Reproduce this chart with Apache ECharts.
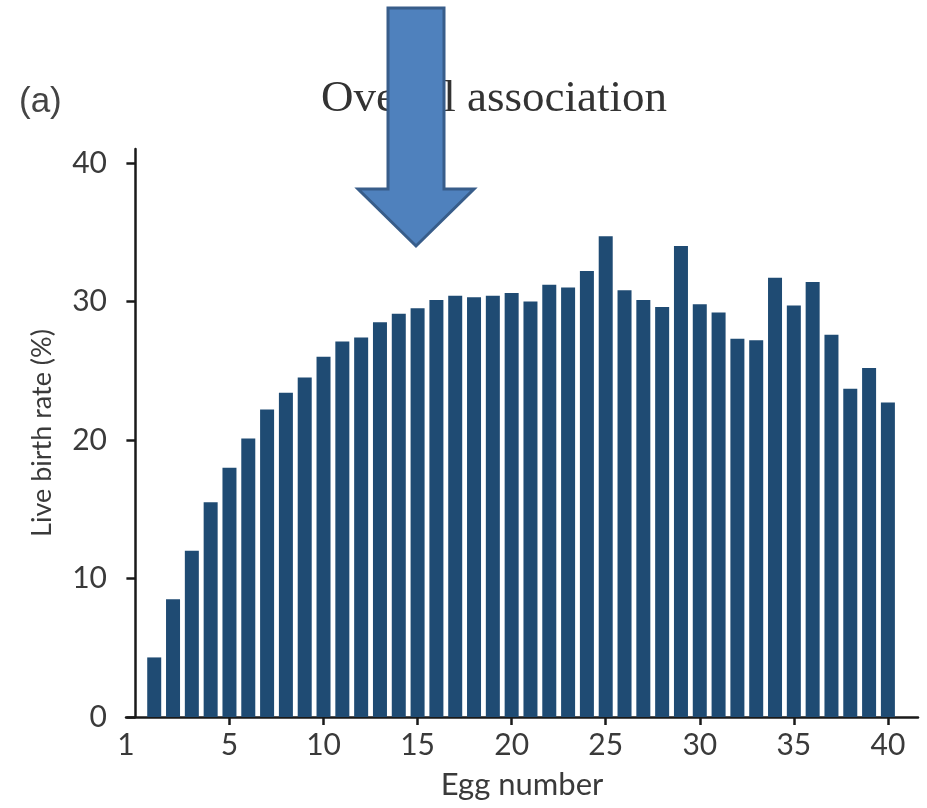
<!DOCTYPE html>
<html>
<head>
	<meta charset="utf-8"/>
	<title>Overall association</title>
	<script src="https://cdn.jsdelivr.net/npm/echarts@6/dist/echarts.min.js"></script>
	<style>
		html, body { margin: 0; padding: 0; background: #fff; }
		#chart { width: 927px; height: 808px; }
	</style>
</head>
<body>
<div id="chart"></div>
<script>
    // egg number 1..40
    var eggNumbers = [1, 2, 3, 4, 5, 6, 7, 8, 9, 10,
        11, 12, 13, 14, 15, 16, 17, 18, 19, 20,
        21, 22, 23, 24, 25, 26, 27, 28, 29, 30,
        31, 32, 33, 34, 35, 36, 37, 38, 39, 40];
    // live birth rate (%)
    var birthRates = [4.3, 8.5, 12.0, 15.5, 18.0, 20.1, 22.2, 23.4, 24.5, 26.0,
        27.1, 27.4, 28.5, 29.1, 29.5, 30.1, 30.4, 30.3, 30.4, 30.6,
        30.0, 31.2, 31.0, 32.2, 34.7, 30.8, 30.1, 29.6, 34.0, 29.8,
        29.2, 27.3, 27.2, 31.7, 29.7, 31.4, 27.6, 23.7, 25.2, 22.7];
    var xTickValues = [5, 10, 15, 20, 25, 30, 35, 40];
    var xFirstLabel = '1';
    var yTickValues = [0, 10, 20, 30, 40];

    var xMin = -0.5, xMax = 41.6;
    var labelFont = 'Lato, "Open Sans", sans-serif';

    var data = [];
    for (var i = 0; i < eggNumbers.length; i++) {
        data.push([eggNumbers[i], birthRates[i]]);
    }

    var chart = echarts.init(document.getElementById('chart'));
    var option = {
        animation: false,
        backgroundColor: '#ffffff',
        title: [{
            text: 'Overall association',
            left: 489,
            top: 72,
            textAlign: 'center',
            textStyle: { fontFamily: '"Liberation Serif", "DejaVu Serif", serif', fontSize: 45, fontWeight: 'normal', color: '#333' }
        }, {
            text: '(a)',
            left: 14,
            top: 80,
            textStyle: { fontFamily: '"Liberation Sans Narrow", "Liberation Sans", sans-serif', fontSize: 35, fontWeight: 'normal', color: '#444' }
        }],
        grid: { left: 126, right: 9, top: 149, bottom: 91 },
        xAxis: {
            type: 'value',
            min: xMin,
            max: xMax,
            name: 'Egg number',
            nameLocation: 'middle',
            nameGap: 52,
            nameTextStyle: { fontFamily: labelFont, fontSize: 31, color: '#3a3a3a' },
            axisLine: { lineStyle: { color: '#1a1a1a', width: 2.5 } },
            axisTick: { show: true, length: 8, customValues: xTickValues, lineStyle: { color: '#1a1a1a', width: 2.5 } },
            axisLabel: {
                customValues: [xMin].concat(xTickValues),
                formatter: function (v) { return v === xMin ? xFirstLabel : String(v); },
                margin: 13,
                fontFamily: labelFont, fontSize: 30, color: '#3a3a3a'
            },
            splitLine: { show: false }
        },
        yAxis: {
            type: 'value',
            min: 0,
            max: 41,
            name: 'Live birth rate (%)',
            nameLocation: 'middle',
            nameGap: 70,
            nameTextStyle: { fontFamily: labelFont, fontSize: 27, color: '#3a3a3a' },
            axisLine: { show: true, lineStyle: { color: '#1a1a1a', width: 2.5 } },
            axisTick: { show: true, length: 9, customValues: yTickValues, lineStyle: { color: '#1a1a1a', width: 2.5 } },
            axisLabel: { customValues: yTickValues, margin: 19, fontFamily: labelFont, fontSize: 30, color: '#3a3a3a' },
            splitLine: { show: false }
        },
        series: [{
            type: 'bar',
            data: data,
            barWidth: 14,
            itemStyle: { color: '#1f4b73' }
        }],
        graphic: [{
            // blue arrow pasted on top of the figure
            type: 'polygon',
            z: 100,
            shape: { points: [[388, 8], [444, 8], [444, 189], [474, 189], [416, 246], [358, 189], [388, 189]] },
            style: { fill: '#4f81bd', stroke: '#385d8a', lineWidth: 3 }
        }]
    };
    chart.setOption(option);
</script>
</body>
</html>
